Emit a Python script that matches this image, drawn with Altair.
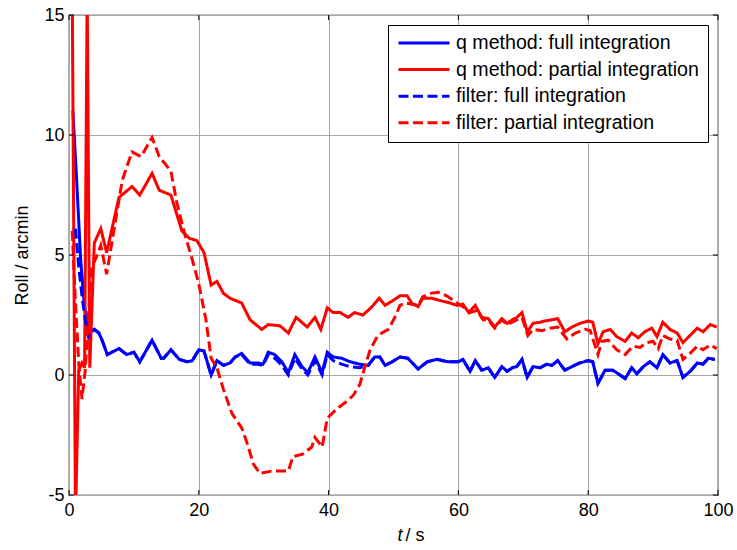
import altair as alt
import pandas as pd

# Series names, colours and dash patterns (legend order)
series_names = [
    "q method: full integration",
    "q method: partial integration",
    "filter: full integration",
    "filter: partial integration",
]
series_colors = ["#0000ff", "#ff0000", "#0000ff", "#ff0000"]
series_dash = [[1, 0], [1, 0], [10, 4.5], [10, 4.5]]

x_ticks = [0, 20, 40, 60, 80, 100]
y_ticks = [-5, 0, 5, 10, 15]

# (t [s], roll [arcmin]) samples for each estimator
q_full = [
    (0.6, 11), (1.2, 8), (1.8, 4.8), (2.3, 3.1), (2.8, 2.0), (3.4, 1.8), (3.9, 1.9),
    (4.6, 1.75), (5.1, 1.45), (5.9, 0.85), (7.7, 1.1), (8.9, 0.85), (10.0, 0.95),
    (10.9, 0.55), (12.8, 1.45), (14.2, 0.7), (14.6, 0.7), (15.7, 1.05), (17.0, 0.65),
    (18.2, 0.55), (19.0, 0.6), (20.0, 1.05), (20.8, 1.0), (21.9, 0.0), (22.8, 0.6),
    (23.8, 0.4), (24.8, 0.5), (25.6, 0.75), (26.6, 0.9), (27.9, 0.5), (29.1, 0.5),
    (29.9, 0.45), (30.7, 0.95), (31.7, 0.85), (32.8, 0.55), (33.8, 0.1), (34.8, 0.85),
    (35.9, 0.35), (36.8, 0.1), (37.9, 0.75), (39.0, 0.1), (39.8, 0.95), (40.7, 0.75),
    (42.0, 0.7), (43.3, 0.55), (44.8, 0.45), (46.1, 0.4), (47.1, 0.75), (47.9, 0.75),
    (48.7, 0.4), (49.8, 0.55), (51.0, 0.75), (52.2, 0.7), (53.8, 0.25), (55.2, 0.55),
    (56.7, 0.65), (58.4, 0.55), (60.0, 0.55), (60.7, 0.65), (61.8, 0.15), (62.6, 0.6),
    (63.6, 0.2), (64.6, 0.3), (65.6, -0.1), (66.7, 0.35), (67.5, 0.15), (68.3, 0.3),
    (69.0, 0.35), (69.8, 0.65), (70.6, -0.1), (71.5, 0.35), (72.6, 0.3), (73.6, 0.45),
    (74.4, 0.4), (75.3, 0.6), (76.4, 0.2), (77.5, 0.35), (78.7, 0.5), (80.0, 0.6),
    (80.7, 0.55), (81.5, -0.35), (82.6, 0.2), (83.8, 0.2), (84.9, 0.0), (85.7, -0.15),
    (86.7, 0.3), (87.5, 0.05), (88.5, 0.35), (89.5, 0.55), (90.6, 0.3), (91.5, 0.85),
    (92.6, 0.5), (93.7, 0.6), (94.6, -0.1), (95.7, 0.15), (96.8, 0.5), (97.7, 0.45),
    (98.5, 0.7), (99.5, 0.65),
]

q_partial = [
    (0.5, 16), (1.0, -6), (1.5, 0.2), (2.0, 0.5), (2.4, 0.3), (2.8, 16), (3.2, 0.3),
    (3.9, 5.5), (4.9, 6.1), (5.8, 5.1), (7.7, 7.4), (9.7, 7.85), (10.9, 7.5),
    (12.8, 8.4), (13.9, 7.7), (15.7, 7.5), (17.4, 6.0), (18.5, 5.7), (19.7, 5.6),
    (20.8, 5.1), (21.9, 3.75), (22.8, 3.9), (23.8, 3.4), (24.8, 3.2), (26.6, 3.0),
    (27.9, 2.3), (29.7, 1.9), (30.7, 2.1), (32.5, 2.05), (33.8, 1.75), (35.0, 2.4),
    (36.7, 2.0), (37.9, 2.4), (38.8, 1.9), (39.8, 2.8), (40.7, 2.6), (41.8, 2.6),
    (43.0, 2.4), (44.0, 2.6), (45.3, 2.5), (46.7, 2.85), (47.8, 3.2), (48.7, 2.9),
    (49.9, 3.1), (51.0, 3.3), (52.1, 3.3), (52.8, 3.0), (53.8, 2.85), (54.5, 3.2),
    (55.9, 3.2), (57.2, 3.1), (58.7, 3.0), (59.8, 2.9), (60.7, 2.95), (61.6, 2.6),
    (62.6, 2.9), (63.6, 2.4), (64.6, 2.35), (65.6, 2.0), (66.7, 2.35), (67.5, 2.15),
    (68.3, 2.3), (69.0, 2.4), (69.8, 2.6), (70.6, 1.8), (71.5, 2.15), (72.6, 2.2),
    (73.3, 2.25), (74.4, 2.3), (75.3, 2.35), (76.4, 1.8), (77.5, 2.0), (78.7, 2.15),
    (80.0, 2.25), (80.7, 2.2), (81.5, 1.3), (82.3, 1.8), (83.4, 1.9), (84.4, 1.6),
    (85.7, 1.4), (86.7, 1.75), (87.7, 1.55), (88.7, 1.8), (89.8, 1.95), (90.6, 1.6),
    (91.5, 2.2), (92.6, 1.9), (93.7, 1.75), (94.6, 1.35), (95.7, 1.65), (96.8, 1.95),
    (97.7, 1.8), (98.8, 2.1), (99.8, 2.0),
]

filter_full = [
    (1.0, 6.1), (1.5, 4.5), (2.0, 3.3), (2.5, 2.3), (3.0, 1.6), (3.4, 1.75), (3.9, 1.9),
    (4.6, 1.75), (5.1, 1.45), (5.9, 0.85), (7.7, 1.1), (8.9, 0.85), (10.0, 0.95),
    (10.9, 0.55), (12.8, 1.45), (14.2, 0.7), (14.6, 0.7), (15.7, 1.05), (17.0, 0.65),
    (18.2, 0.55), (19.0, 0.6), (20.0, 1.05), (20.8, 1.0), (21.9, 0.0), (22.8, 0.6),
    (23.8, 0.4), (24.8, 0.5), (25.6, 0.75), (26.6, 0.85), (27.9, 0.45), (29.1, 0.45),
    (29.9, 0.4), (30.7, 0.85), (31.7, 0.7), (32.8, 0.4), (33.8, 0.0), (34.8, 0.7),
    (35.9, 0.25), (36.8, 0.0), (37.9, 0.6), (39.0, 0.0), (39.8, 0.85), (40.7, 0.6),
    (42.0, 0.45), (43.3, 0.35), (44.8, 0.3), (46.1, 0.4), (47.1, 0.75), (47.9, 0.75),
    (48.7, 0.4), (49.8, 0.55), (51.0, 0.75), (52.2, 0.7), (53.8, 0.25), (55.2, 0.55),
    (56.7, 0.65), (58.4, 0.55), (60.0, 0.55), (60.7, 0.65), (61.8, 0.15), (62.6, 0.6),
    (63.6, 0.2), (64.6, 0.3), (65.6, -0.1), (66.7, 0.35), (67.5, 0.15), (68.3, 0.3),
    (69.0, 0.35), (69.8, 0.65), (70.6, -0.1), (71.5, 0.35), (72.6, 0.3), (73.6, 0.45),
    (74.4, 0.4), (75.3, 0.6), (76.4, 0.2), (77.5, 0.35), (78.7, 0.5), (80.0, 0.6),
    (80.7, 0.55), (81.5, -0.35), (82.6, 0.2), (83.8, 0.2), (84.9, 0.0), (85.7, -0.15),
    (86.7, 0.3), (87.5, 0.05), (88.5, 0.35), (89.5, 0.55), (90.6, 0.3), (91.5, 0.85),
    (92.6, 0.5), (93.7, 0.6), (94.6, -0.1), (95.7, 0.15), (96.8, 0.5), (97.7, 0.45),
    (98.5, 0.7), (99.5, 0.65),
]

filter_partial = [
    (0.5, 6), (1.0, 3), (1.5, 0.5), (2.0, -1.0), (2.5, 0.2), (3.0, 2.5), (3.5, 4.5),
    (4.2, 4.9), (4.9, 5.4), (5.8, 4.2), (6.9, 6.0), (8.2, 8.1), (9.7, 9.3), (11.1, 9.1),
    (12.8, 9.9), (13.9, 9.1), (15.7, 8.5), (16.6, 7.2), (17.7, 6.0), (19.0, 4.8),
    (20.0, 3.8), (21.1, 2.3), (21.9, 0.7), (22.8, 0.3), (23.8, -0.6), (25.1, -1.6),
    (26.6, -2.2), (27.4, -2.8), (28.4, -3.7), (29.4, -4.1), (31.3, -4.0), (32.5, -4.0),
    (33.8, -4.0), (34.5, -3.4), (36.0, -3.3), (37.4, -3.0), (37.9, -2.6), (39.0, -3.0),
    (39.8, -1.8), (41.3, -1.4), (42.8, -1.1), (43.8, -0.85), (44.8, -0.4), (45.6, 0.35),
    (46.4, 1.05), (47.5, 1.6), (48.2, 1.75), (49.2, 1.9), (50.2, 2.4), (51.0, 2.9),
    (51.8, 3.0), (53.8, 2.9), (54.5, 3.25), (55.6, 3.4), (56.9, 3.45), (58.2, 3.3),
    (59.5, 3.05), (60.7, 2.85), (61.8, 2.6), (62.9, 2.7), (63.8, 2.3), (64.6, 2.3),
    (65.6, 1.95), (66.7, 2.3), (67.5, 2.1), (68.3, 2.2), (69.8, 2.4), (70.7, 1.65),
    (71.5, 1.9), (72.9, 1.85), (74.1, 1.95), (75.3, 2.0), (76.7, 1.5), (78.0, 1.75),
    (79.5, 1.9), (80.3, 1.85), (81.5, 0.85), (82.1, 1.4), (83.1, 1.45), (84.4, 1.05),
    (85.7, 0.85), (86.9, 1.2), (88.0, 1.15), (89.0, 1.35), (90.0, 1.4), (90.8, 1.1),
    (91.5, 1.65), (92.6, 1.5), (93.7, 1.45), (94.6, 0.65), (95.7, 0.9), (96.8, 1.2),
    (97.7, 1.05), (98.8, 1.25), (99.8, 1.1),
]

rows = []
for name, pts in zip(series_names, [q_full, q_partial, filter_full, filter_partial]):
    for t, v in pts:
        rows.append({"t": t, "roll": v, "series": name})
df = pd.DataFrame(rows)

FONT = "Liberation Sans"
W, H = 649, 480

x_scale = alt.Scale(domain=[0, 100], nice=False, zero=False)
y_scale = alt.Scale(domain=[-5, 15], nice=False, zero=False)
x_axis = alt.Axis(
    values=x_ticks, title=None, grid=True, labelPadding=6, labelFlush=False,
    labelExpr="datum.value",
)
y_axis = alt.Axis(
    values=y_ticks, title="Roll / arcmin", grid=True, labelPadding=5, titlePadding=12,
    labelFlush=False, labelExpr="datum.value",
)

legend = alt.Legend(
    title=None,
    orient="none",
    legendX=319,
    legendY=10,
    symbolType="stroke",
    symbolSize=2600,
    symbolStrokeWidth=3,
    labelFont=FONT,
    labelFontSize=19.6,
    labelColor="black",
    labelOffset=5,
    labelLimit=400,
    strokeColor="black",
    fillColor="white",
    padding=9,
    clipHeight=18,
    rowPadding=6.6,
    cornerRadius=0,
)

lines = alt.Chart(df).mark_line(strokeWidth=3, clip=True).encode(
    x=alt.X("t:Q", scale=x_scale, axis=x_axis),
    y=alt.Y("roll:Q", scale=y_scale, axis=y_axis),
    color=alt.Color(
        "series:N",
        scale=alt.Scale(domain=series_names, range=series_colors),
        legend=legend,
    ),
    strokeDash=alt.StrokeDash(
        "series:N",
        scale=alt.Scale(domain=series_names, range=series_dash),
        legend=legend,
    ),
)

# Inward tick marks on all four sides of the box
xt = pd.DataFrame({"t": x_ticks})
yt = pd.DataFrame({"roll": y_ticks})
tick_bottom = alt.Chart(xt).mark_rule(color="black", strokeWidth=1).encode(
    x=alt.X("t:Q", scale=x_scale, axis=x_axis), y=alt.value(H), y2=alt.value(H - 5)
)
tick_top = alt.Chart(xt).mark_rule(color="black", strokeWidth=1).encode(
    x=alt.X("t:Q", scale=x_scale, axis=x_axis), y=alt.value(0), y2=alt.value(5)
)
tick_left = alt.Chart(yt).mark_rule(color="black", strokeWidth=1).encode(
    y=alt.Y("roll:Q", scale=y_scale, axis=y_axis), x=alt.value(0), x2=alt.value(5)
)
tick_right = alt.Chart(yt).mark_rule(color="black", strokeWidth=1).encode(
    y=alt.Y("roll:Q", scale=y_scale, axis=y_axis), x=alt.value(W), x2=alt.value(W - 5)
)

# x-axis title with an italic variable name
t_label = alt.Chart(pd.DataFrame({"s": ["t"]})).mark_text(
    font=FONT, fontSize=18, fontStyle="italic", align="right", baseline="alphabetic", color="black"
).encode(text="s:N", x=alt.value(W / 2 + 9), y=alt.value(H + 46))
s_label = alt.Chart(pd.DataFrame({"s": ["/ s"]})).mark_text(
    font=FONT, fontSize=18, align="left", baseline="alphabetic", color="black"
).encode(text="s:N", x=alt.value(W / 2 + 12), y=alt.value(H + 46))

chart = alt.layer(
    lines, tick_bottom, tick_top, tick_left, tick_right, t_label, s_label
).properties(
    width=W,
    height=H,
    autosize=alt.AutoSizeParams(type="none"),
    padding={"left": 69, "top": 15, "right": 19, "bottom": 55},
    background="white",
).configure_view(
    stroke="black", strokeWidth=1.2
).configure_axis(
    domain=False,
    ticks=False,
    labelFont=FONT,
    labelFontSize=18,
    labelColor="black",
    titleFont=FONT,
    titleFontSize=18,
    titleFontWeight="normal",
    titleColor="black",
    gridColor="#a6a6a6",
    gridOpacity=1,
    gridWidth=1,
)

chart.save("out.html", embed_options={"renderer": "svg", "actions": False})
